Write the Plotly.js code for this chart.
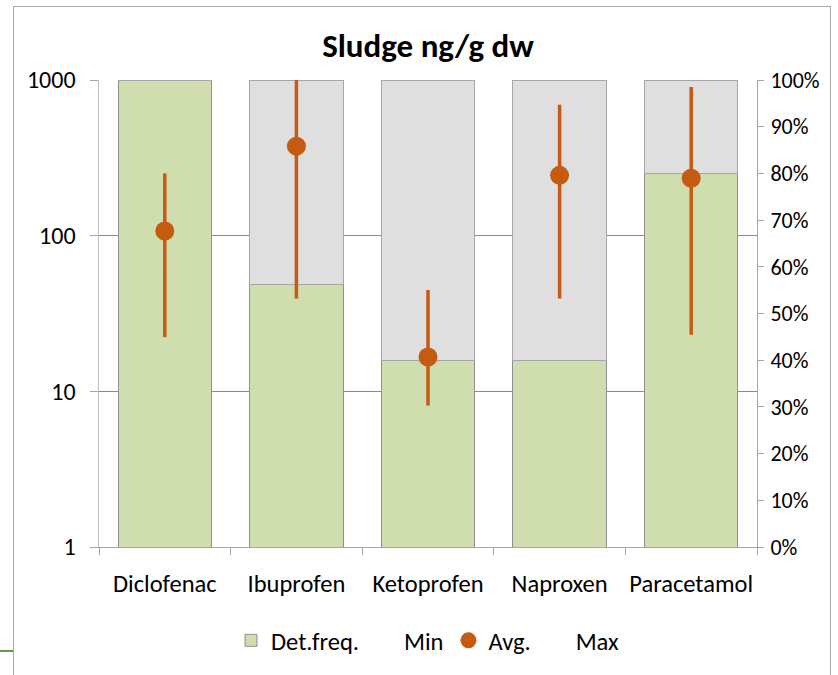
<!DOCTYPE html>
<html>
<head>
<meta charset="utf-8">
<script src="https://cdn.plot.ly/plotly-3.0.1.min.js"></script>
<style>
  body { margin: 0; background: #fff; }
  #wrap { position: relative; width: 838px; height: 675px; }
  #sludge { width: 838px; height: 675px; }
  #frame { position: absolute; left: 13px; top: 6px; width: 816px; height: 700px;
           border: 1px solid #a9a9a9; pointer-events: none; }
  #stray { position: absolute; left: 0; top: 650px; width: 13px; height: 2px; background: #5f9e45; }
</style>
</head>
<body>
<div id="wrap">
  <div id="sludge"></div>
  <div id="frame"></div>
  <div id="stray"></div>
</div>
<script>
// values
var compounds = ['Diclofenac', 'Ibuprofen', 'Ketoprofen', 'Naproxen', 'Paracetamol'];
var detFreq = [1.00, 0.563, 0.40, 0.40, 0.80];
var minVal = [22.3, 39.5, 8.1, 39.5, 23.1];
var avgVal = [107, 376, 16.6, 244, 234];
var maxVal = [251, 1000, 44.7, 693, 902];
var logTicks = [1, 10, 100, 1000];

var fontFam = "Carlito, 'Liberation Sans Narrow', 'DejaVu Sans Condensed', 'Open Sans', sans-serif";

function sludgeChart(){
  var rest = [];
  var errUp = [];
  var errDown = [];
  for (var i = 0; i < compounds.length; i++) {
    rest.push(1 - detFreq[i]);
    errUp.push(maxVal[i] - avgVal[i]);
    errDown.push(avgVal[i] - minVal[i]);
  }
  // a little gap between the left labels and their ticks
  var logText = logTicks.map(function(v){ return v + '\u2009\u2009'; });

  var freqTrace = {
    x: compounds,
    y: detFreq,
    name: 'Det.freq.',
    type: 'bar',
    yaxis: 'y',
    marker: { color: '#cfddaf', line: { color: '#8f8f8f', width: 1 } },
    hoverinfo: 'skip'
  };
  var restTrace = {
    x: compounds,
    y: rest,
    name: 'rest',
    type: 'bar',
    yaxis: 'y',
    showlegend: false,
    marker: { color: '#dfdfdf', line: { color: '#a6a6a6', width: 1 } },
    hoverinfo: 'skip'
  };
  // Min and Max only show up as legend text, their marks are the error lines
  var minTrace = {
    x: compounds,
    y: minVal,
    name: 'Min',
    type: 'scatter',
    mode: 'markers',
    yaxis: 'y2',
    marker: { size: 10, color: 'rgba(0,0,0,0)', line: { width: 0 } },
    hoverinfo: 'skip'
  };
  var avgTrace = {
    x: compounds,
    y: avgVal,
    name: 'Avg.',
    type: 'scatter',
    mode: 'markers',
    yaxis: 'y2',
    marker: { size: 19, color: '#c55a11' },
    error_y: {
      type: 'data',
      symmetric: false,
      array: errUp,
      arrayminus: errDown,
      color: '#c55a11',
      thickness: 3.5,
      width: 0
    }
  };
  var maxTrace = {
    x: compounds,
    y: maxVal,
    name: 'Max',
    type: 'scatter',
    mode: 'markers',
    yaxis: 'y2',
    marker: { size: 10, color: 'rgba(0,0,0,0)', line: { width: 0 } },
    hoverinfo: 'skip'
  };

  var data = [freqTrace, restTrace, minTrace, avgTrace, maxTrace];

  var layout = {
    width: 838,
    height: 675,
    margin: { l: 99, r: 81, t: 80, b: 125 },
    paper_bgcolor: '#ffffff',
    plot_bgcolor: 'rgba(0,0,0,0)',
    font: { family: fontFam, size: 24, color: '#000000' },
    title: {
      text: '<b>Sludge ng/g dw</b>',
      font: { family: fontFam, size: 33, color: '#000000' },
      x: 0.5, xref: 'paper', xanchor: 'center',
      y: 1 - 45 / 675, yref: 'container', yanchor: 'middle'
    },
    barmode: 'stack',
    bargap: 0.29,
    showlegend: true,
    legend: {
      orientation: 'h',
      x: 0.5, xanchor: 'center',
      y: -0.2, yanchor: 'middle',
      font: { family: fontFam, size: 24.5, color: '#000000' },
      traceorder: 'normal'
    },
    xaxis: {
      type: 'category',
      showline: true,
      linecolor: '#a6a6a6',
      linewidth: 1,
      ticks: 'outside',
      tickson: 'boundaries',
      ticklen: 7,
      tickcolor: '#a6a6a6',
      tickangle: 0,
      ticklabelstandoff: 15,
      showgrid: false,
      tickfont: { family: fontFam, size: 24.5, color: '#000000' }
    },
    // percentage axis on the right, bars live here so they sit underneath
    yaxis: {
      side: 'right',
      range: [0, 1],
      dtick: 0.1,
      tickformat: '.0%',
      showgrid: false,
      zeroline: false,
      showline: true,
      linecolor: '#a6a6a6',
      ticks: 'outside',
      ticklen: 6,
      tickcolor: '#a6a6a6',
      ticklabelstandoff: 2,
      tickfont: { family: fontFam, size: 22, color: '#000000' }
    },
    // log concentration axis on the left, drawn over the bars
    yaxis2: {
      type: 'log',
      overlaying: 'y',
      side: 'left',
      range: [0, 3],
      tickvals: logTicks,
      ticktext: logText,
      showgrid: true,
      gridcolor: '#8a8a8a',
      gridwidth: 1,
      showline: true,
      linecolor: '#bfbfbf',
      ticks: 'outside',
      ticklen: 8,
      tickcolor: '#a6a6a6',
      tickfont: { family: fontFam, size: 24, color: '#000000' }
    }
  };

  Plotly.newPlot('sludge', data, layout, { displayModeBar: false, staticPlot: true });
}

sludgeChart();
</script>
</body>
</html>
